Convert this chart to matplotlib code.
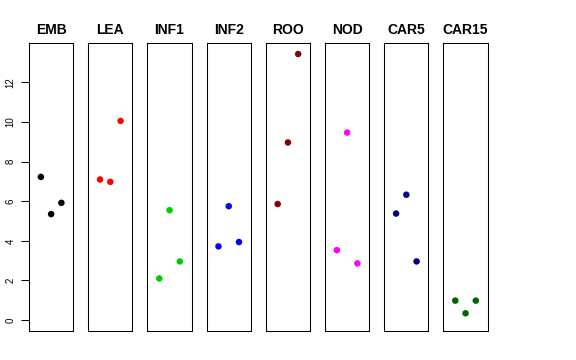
import matplotlib.pyplot as plt

plt.rcParams['font.family'] = ['Liberation Sans', 'DejaVu Sans']

groups = ["EMB", "LEA", "INF1", "INF2", "ROO", "NOD", "CAR5", "CAR15"]
colors = ["black", "red", "#00CD00", "blue", "#8B0000", "magenta", "#000080", "#006400"]
reps = [1, 2, 3]
values = [
    [7.23, 5.35, 5.92],
    [7.10, 6.98, 10.06],
    [2.10, 5.55, 2.96],
    [3.72, 5.75, 3.94],
    [5.86, 8.97, 13.44],
    [3.53, 9.47, 2.86],
    [5.38, 6.33, 2.96],
    [0.98, 0.34, 0.98],
]
yticks = [0, 2, 4, 6, 8, 10, 12]

fig, axes = plt.subplots(1, 8, figsize=(5.76, 3.6), dpi=100, sharey=True)
fig.subplots_adjust(left=0.0503, right=0.8467, bottom=0.0814, top=0.8797, wspace=0.336)

for i, ax in enumerate(axes):
    ax.scatter(reps, values[i], s=22, color=colors[i], edgecolors="none")
    ax.set_xlim(-0.16, 4.16)
    ax.set_ylim(-0.54, 13.98)
    ax.set_xticks([])
    ax.set_title(groups[i], fontsize=10, fontweight="bold", pad=7)
    for sp in ax.spines.values():
        sp.set_linewidth(0.75)
        sp.set_color("black")
    if i == 0:
        ax.set_yticks(yticks)
        ax.set_yticklabels([str(t) for t in yticks], rotation=90, va="center", fontsize=7)
        ax.tick_params(axis="y", length=5.5, width=0.75, pad=4)
    else:
        ax.tick_params(axis="y", left=False, labelleft=False)

fig.savefig("out.png", dpi=100)
